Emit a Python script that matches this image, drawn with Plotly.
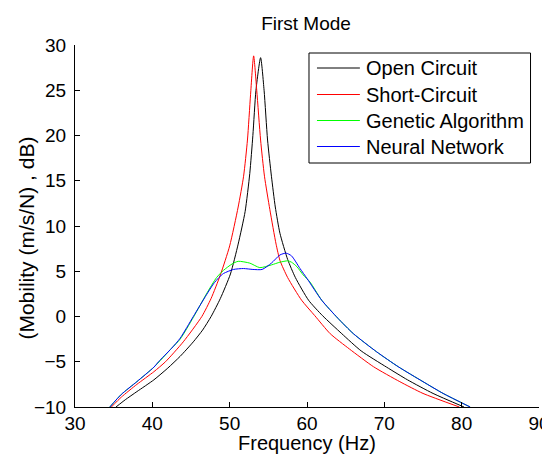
import plotly.graph_objects as go

# Open Circuit (black)
oc_f = [35.3, 36.5, 38.0, 40.2, 42.0, 43.6, 45.3, 46.5, 47.6, 48.8, 50.1, 51.1, 52.0, 52.6, 53.0, 53.4, 54.0,
        54.45, 54.9, 55.4, 55.9, 56.5, 57.5, 58.5, 60.2, 62.0, 64.5, 67.0, 70.3, 73.0, 76.3, 80.3]
oc_db = [-10, -9.2, -8.3, -7.0, -5.7, -4.4, -2.8, -1.5, 0.0, 2.0, 4.7, 8.0, 11.6, 15.8, 20.0, 25.0, 28.6,
         25.0, 19.5, 15.5, 12.1, 9.2, 6.3, 4.3, 1.8, 0.1, -1.9, -3.8, -5.6, -7.0, -8.5, -10]

# Short-Circuit (red)
sc_f = [34.7, 36.0, 38.0, 40.2, 41.7, 44.0, 46.4, 47.6, 48.8, 50.0, 51.1, 51.8, 52.3, 52.7, 53.1,
        53.5, 54.0, 54.5, 55.2, 56.0, 56.5, 57.5, 59.3, 61.0, 63.0, 65.5, 68.6, 72.0, 75.0, 79.7]
sc_db = [-10, -8.9, -7.5, -6.1, -5.0, -2.8, 0.0, 2.0, 4.6, 7.8, 12.1, 15.5, 19.5, 24.5, 28.8,
         25.0, 19.5, 15.5, 11.8, 8.0, 6.2, 4.3, 1.8, 0.1, -1.9, -3.6, -5.55, -7.2, -8.5, -10]

# Genetic Algorithm (green)
ga_f = [34.5, 36.0, 38.0, 40.2, 42.5, 43.6, 45.3, 47.0, 48.3, 49.2, 50.3, 51.1, 52.6, 53.9, 55.4,
        56.5, 57.5, 58.0, 58.7, 59.5, 60.4, 61.9, 64.0, 66.0, 69.0, 71.8, 75.0, 77.6, 81.1]
ga_db = [-10, -8.6, -7.2, -5.6, -3.5, -2.5, -0.1, 2.5, 4.3, 5.1, 5.8, 6.1, 5.9, 5.4, 5.7,
         6.0, 6.15, 6.0, 5.5, 4.6, 3.8, 1.8, -0.2, -1.9, -3.9, -5.55, -7.2, -8.5, -10]

# Neural Network (blue)
nn_f = [34.5, 36.0, 38.0, 40.2, 40.8, 42.5, 43.6, 45.3, 47.0, 47.9, 48.6, 49.2, 50.5, 51.8, 53.0,
        54.2, 55.4, 56.5, 57.3, 58.0, 59.1, 60.0, 61.9, 64.0, 66.0, 69.0, 71.8, 75.0, 77.6, 81.1]
nn_db = [-10, -8.6, -7.2, -5.6, -5.0, -3.5, -2.4, 0.0, 2.4, 3.6, 4.3, 4.75, 5.2, 5.3, 5.2,
         5.2, 5.9, 6.8, 7.0, 6.7, 5.3, 4.2, 1.8, -0.2, -1.9, -3.9, -5.55, -7.2, -8.5, -10]

x_ticks = [30, 40, 50, 60, 70, 80, 90]
y_ticks = [-10, -5, 0, 5, 10, 15, 20, 25, 30]

FONT = "Liberation Sans, Arial, sans-serif"
# the page body has an 8px margin, so the figure is sized to fit the window
OFF = 8
W, H = 550 - OFF, 457 - OFF
# plot area in window pixels: x 74.5..539.5, y 45..407
L, R, T, B = 74.5 - OFF, 550 - 539.5, 45 - OFF, 457 - 407
PW, PH = W - L - R, H - T - B


def px_x(sx):
    # window pixel -> paper fraction
    return (sx - OFF - L) / PW


def px_y(sy):
    return (H - B - (sy - OFF)) / PH


fig = go.Figure()
series = [
    ("Open Circuit", oc_f, oc_db, "#000000"),
    ("Short-Circuit", sc_f, sc_db, "#ff0000"),
    ("Genetic Algorithm", ga_f, ga_db, "#00ff00"),
    ("Neural Network", nn_f, nn_db, "#0000ff"),
]
for name, xs, ys, col in series:
    fig.add_trace(go.Scatter(x=xs, y=ys, mode="lines", name=name, showlegend=False,
                             line=dict(color=col, width=1, shape="spline", smoothing=0.6)))

# legend box drawn by hand (MATLAB style)
shapes = [dict(type="rect", xref="paper", yref="paper",
               x0=px_x(309), x1=px_x(531), y0=px_y(163), y1=px_y(53),
               line=dict(color="black", width=1), fillcolor="white", layer="above")]
annotations = []
entry_y = [68, 94.5, 120.5, 146.5]
for (name, _, _, col), ey in zip(series, entry_y):
    shapes.append(dict(type="line", xref="paper", yref="paper",
                       x0=px_x(317), x1=px_x(360), y0=px_y(ey), y1=px_y(ey),
                       line=dict(color=col, width=1), layer="above"))
    annotations.append(dict(text=name, xref="paper", yref="paper", x=px_x(364), y=px_y(ey),
                            xanchor="left", yanchor="middle", showarrow=False,
                            font=dict(size=20, color="black")))

# axis titles
annotations.append(dict(text="Frequency (Hz)", xref="paper", yref="paper",
                        x=px_x(307), y=px_y(443), xanchor="center", yanchor="middle",
                        showarrow=False, font=dict(size=20, color="black")))
annotations.append(dict(text="(Mobility (m/s/N) , dB)", xref="paper", yref="paper",
                        x=px_x(25), y=px_y(238), xanchor="center", yanchor="middle",
                        textangle=-90, showarrow=False, font=dict(size=21, color="black")))

fig.update_layout(
    width=W, height=H,
    margin=dict(l=L, r=R, t=T, b=B),
    paper_bgcolor="white", plot_bgcolor="white",
    font=dict(family=FONT, size=19, color="black"),
    title=dict(text="First Mode", x=(306 - OFF) / W, xref="container", xanchor="center",
               y=1 - (23 - OFF) / H, yref="container", yanchor="middle", font=dict(size=19)),
    showlegend=False,
    shapes=shapes,
    annotations=annotations,
)
fig.update_xaxes(range=[30, 90], tickvals=x_ticks, ticks="inside", ticklen=5, tickcolor="black",
                 showline=True, linecolor="black", linewidth=1, showgrid=False, zeroline=False,
                 ticklabeloverflow="allow", ticklabelstandoff=-1, automargin=False)
fig.update_yaxes(range=[-10, 30], tickvals=y_ticks, ticks="inside", ticklen=5, tickcolor="black",
                 showline=True, linecolor="black", linewidth=1, showgrid=False, zeroline=False,
                 ticklabelstandoff=4, automargin=False)

fig.write_html("out.html")
